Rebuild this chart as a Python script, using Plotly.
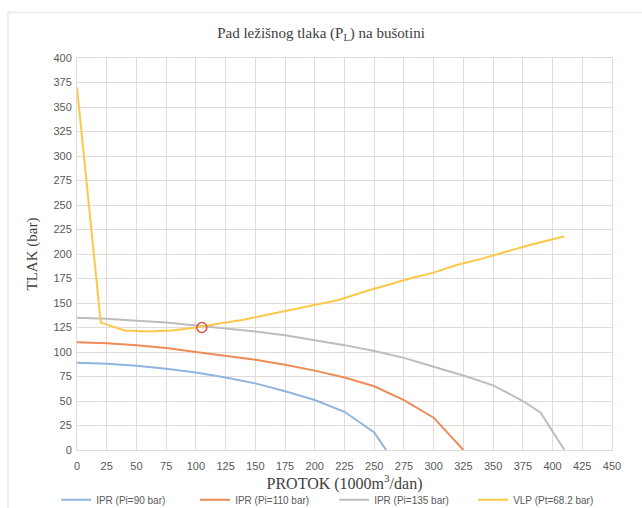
import plotly.graph_objects as go

# IPR curves (flow in 1000 m3/day, pressure in bar)
ipr90_q = [0, 25, 50, 75, 100, 125, 150, 175, 200, 225, 250, 260]
ipr90_p = [89, 88, 86, 83, 79, 74, 68, 60, 51, 39, 18, 0]

ipr110_q = [0, 25, 50, 75, 100, 125, 150, 175, 200, 225, 250, 275, 300, 325]
ipr110_p = [110, 109, 107, 104, 100, 96, 92, 87, 81, 74, 65, 51, 33, 0]

ipr135_q = [0, 25, 50, 75, 100, 125, 150, 175, 200, 225, 250, 275, 300, 325, 350, 375, 390, 410]
ipr135_p = [135, 134, 132, 130, 127, 124, 121, 117, 112, 107, 101, 94, 85, 76, 66, 50, 38, 0]

vlp_q = [0, 20, 40, 60, 80, 100, 120, 140, 160, 180, 200, 220, 240, 260, 280, 300, 320, 340, 360, 380, 400, 410]
vlp_p = [370, 130, 122, 121, 122, 125, 129, 133, 138, 143, 148, 153, 161, 168, 175, 181, 189, 195, 202, 209, 215, 218]

op_q = [105]
op_p = [125]

x_ticks = list(range(0, 451, 25))
y_ticks = list(range(0, 401, 25))

names = ["IPR (Pi=90 bar)", "IPR (Pi=110 bar)", "IPR (Pi=135 bar)", "VLP (Pt=68.2 bar)"]
colors = ["#8fb4e0", "#ee8c58", "#bdbdbd", "#fcc84a"]

fig = go.Figure()
for q, p, n, c in zip([ipr90_q, ipr110_q, ipr135_q, vlp_q],
                      [ipr90_p, ipr110_p, ipr135_p, vlp_p], names, colors):
    fig.add_trace(go.Scatter(x=q, y=p, mode="lines", name=n,
                             line=dict(color=c, width=2)))

fig.add_trace(go.Scatter(x=op_q, y=op_p, mode="markers", showlegend=False,
                         marker=dict(symbol="circle-open", size=10,
                                     line=dict(color="#d9534f", width=1.5),
                                     color="#d9534f")))

grid = "#e3dada"
fig.update_layout(
    width=642, height=508,
    margin=dict(l=77, r=30, t=58, b=58, autoexpand=False),
    paper_bgcolor="white", plot_bgcolor="white",
    title=dict(text="Pad ležišnog tlaka (P<sub>L</sub>) na bušotini",
               x=0.5, xanchor="center", y=0.935, yanchor="middle",
               font=dict(family="Liberation Serif", size=15, color="#404040")),
    xaxis=dict(range=[0, 450], tickvals=x_ticks, showgrid=True, gridcolor=grid,
               gridwidth=1, showline=True, linecolor=grid, mirror=True,
               zeroline=False, ticks="", ticklabelstandoff=6,
               tickfont=dict(family="Liberation Sans", size=11, color="#595959"),
               title=dict(text="PROTOK (1000m<sup>3</sup>/dan)", standoff=5,
                          font=dict(family="Liberation Serif", size=16, color="#404040"))),
    yaxis=dict(range=[0, 400], tickvals=y_ticks, showgrid=True, gridcolor=grid,
               gridwidth=1, showline=True, linecolor=grid, mirror=True,
               zeroline=False, ticks="", ticklabelstandoff=2,
               tickfont=dict(family="Liberation Sans", size=11, color="#595959"),
               title=dict(text="TLAK (bar)", standoff=12,
                          font=dict(family="Liberation Serif", size=15, color="#404040"))),
    legend=dict(orientation="h", x=-0.039, xanchor="left", y=-0.127, yanchor="middle",
                font=dict(family="Liberation Sans", size=10, color="#595959"),
                entrywidth=94, itemwidth=30, tracegroupgap=0,
                bgcolor="rgba(0,0,0,0)"),
    shapes=[dict(type="rect", xref="paper", yref="paper",
                 x0=-0.129, x1=1.2, y0=-0.3, y1=1.117,
                 line=dict(color="#e6dede", width=1), layer="below")],
)

fig.write_html("out.html")
